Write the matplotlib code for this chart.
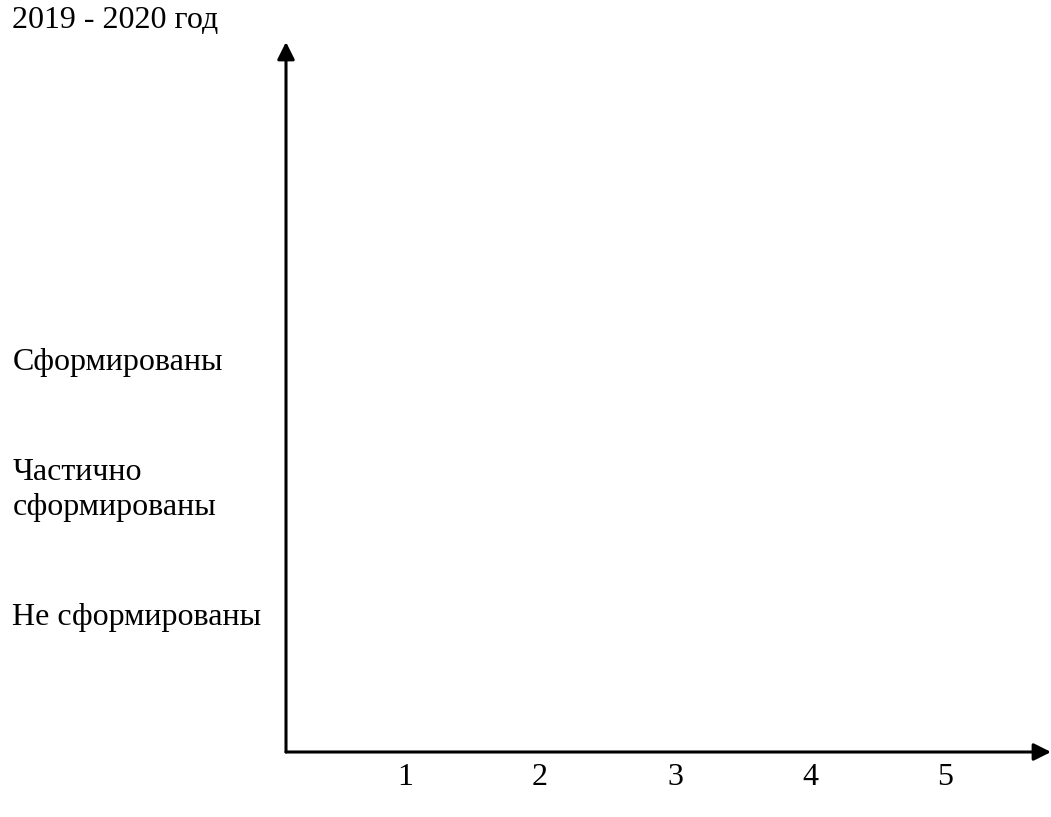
import matplotlib as mpl
mpl.use('Agg')
import matplotlib.pyplot as plt

plt.rcParams['font.family'] = ['Liberation Serif', 'DejaVu Serif']

# данные
x_labels = ['1', '2', '3', '4', '5']
x_pos = [1, 2, 3, 4, 5]
y_labels = ['Не сформированы', 'Частично\nсформированы', 'Сформированы']
y_pos = [1, 2, 3]
title = '2019 - 2020 год'

fig = plt.figure(figsize=(10.51, 8.17), dpi=100, facecolor='white')
ax = fig.add_axes([286 / 1051, 65 / 817, 765 / 1051, 710 / 817])
ax.set_xlim(1 - 119 / 135, 1 + 646 / 135)
ax.set_ylim(1 - 134 / 128, 1 + 576 / 128)

for s in ax.spines.values():
    s.set_visible(False)

arrow_args = dict(arrowstyle='-|>', lw=2.2, color='black', mutation_scale=26,
                  shrinkA=0, shrinkB=0)
ax.annotate('', xy=(1, 0), xycoords='axes fraction', xytext=(0, 0),
            textcoords='axes fraction', arrowprops=arrow_args, annotation_clip=False)
ax.annotate('', xy=(0, 1), xycoords='axes fraction', xytext=(0, 0),
            textcoords='axes fraction', arrowprops=arrow_args, annotation_clip=False)

ax.set_xticks(x_pos, x_labels, fontsize=23)
ax.set_yticks(y_pos, y_labels, fontsize=23, ha='left', va='center')
for lbl in ax.get_yticklabels():
    lbl.set_linespacing(1.25)
ax.tick_params(axis='x', length=0, pad=8)
ax.tick_params(axis='y', length=0, pad=197)

fig.text(12 / 1051, 1 - 20 / 817, title, fontsize=23, ha='left', va='center')

fig.savefig('out.png', dpi=100, facecolor='white')
